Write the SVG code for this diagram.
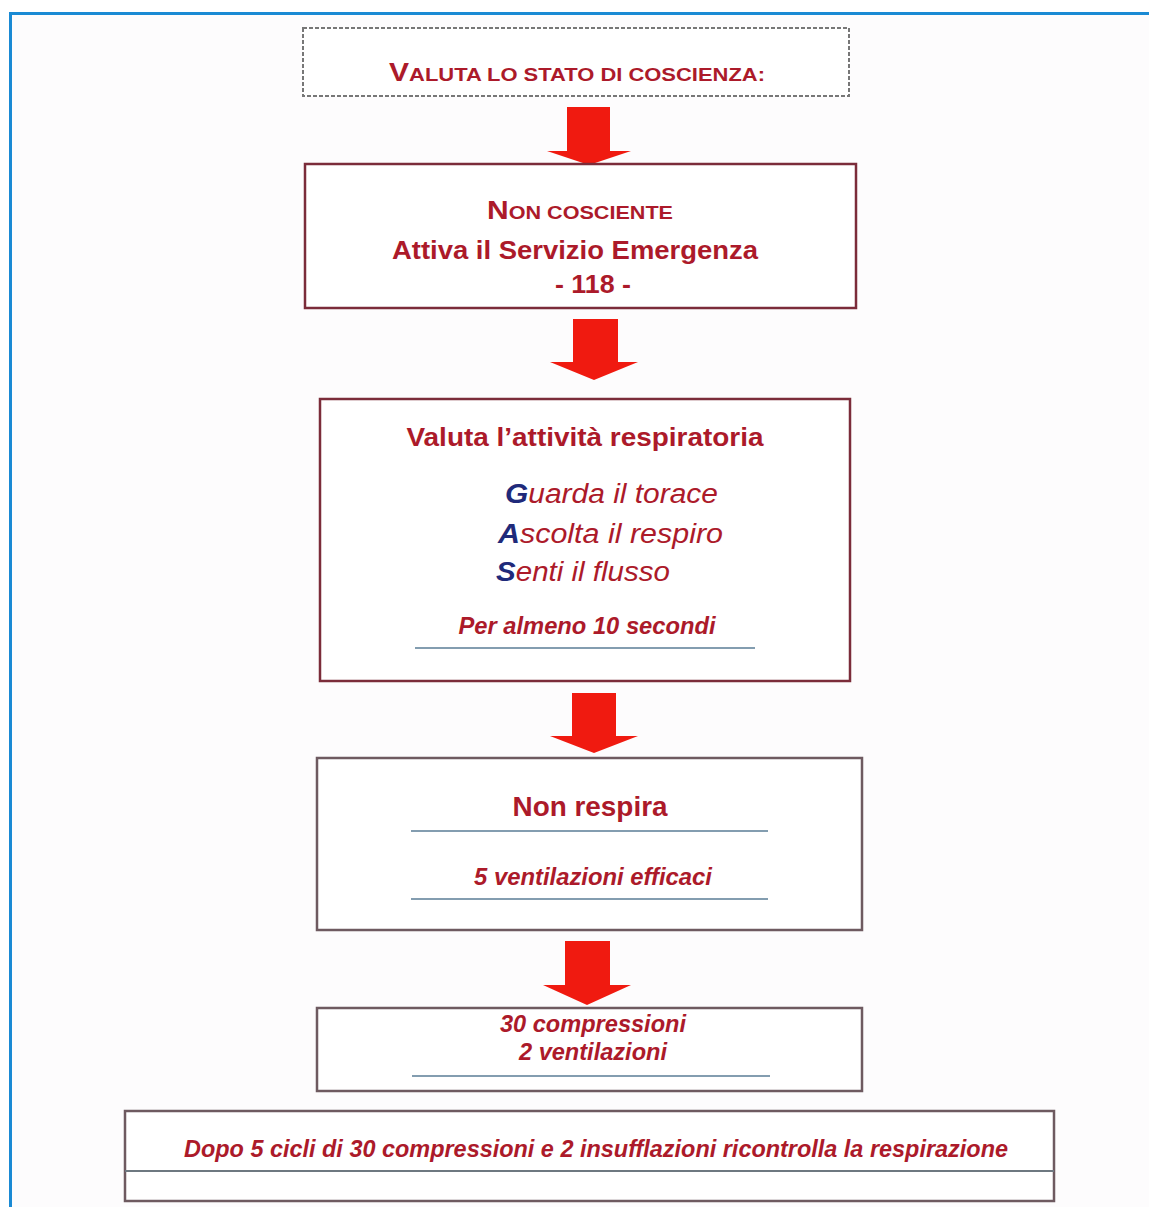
<svg xmlns="http://www.w3.org/2000/svg" width="1149" height="1207" viewBox="0 0 1149 1207">
<style>
.box{fill:#fff;stroke:#7b2c3a;stroke-width:2.5}
.gbox{fill:#fff;stroke:#6e5a60;stroke-width:2.5}
.dash{fill:#fff;stroke:#777;stroke-width:2;stroke-dasharray:4 2}
.t{font-family:"Liberation Sans",Arial,sans-serif;font-weight:bold;fill:#ac1a2a}
.i{font-style:italic}
.n{font-weight:normal}
.b{fill:#1f2a7a;font-weight:bold}
.sep{stroke:#5a7d96;stroke-width:1.5}
.arrow{fill:#f01a10}
</style>
<rect x="0" y="0" width="1149" height="1207" fill="#fff"/>
<rect x="10.5" y="13.5" width="1150" height="1210" fill="#fdfcfd" stroke="#1a8ad4" stroke-width="3"/>

<g id="connectors">
<polygon class="arrow" points="567,107 610,107 610,151 631,151 589,165 547,151 567,151"/>
<polygon class="arrow" points="573,319 618,319 618,362 638,362 594,380 550,362 573,362"/>
<polygon class="arrow" points="572,693 616,693 616,736 638,736 594,753 550,736 572,736"/>
<polygon class="arrow" points="565,941 610,941 610,985 631,985 587,1005 543,985 565,985"/>
</g>

<g id="n1">
<rect class="dash" x="303" y="28" width="546" height="68"/>
<text class="t" x="577" y="81" text-anchor="middle" font-size="19" textLength="376" lengthAdjust="spacingAndGlyphs"><tspan font-size="26">V</tspan>ALUTA LO STATO DI COSCIENZA:</text>
</g>

<g id="n2">
<rect class="box" x="305" y="164" width="551" height="144"/>
<text class="t" x="580" y="219" text-anchor="middle" font-size="18" textLength="186" lengthAdjust="spacingAndGlyphs"><tspan font-size="25">N</tspan>ON COSCIENTE</text>
<text class="t" x="575" y="259" text-anchor="middle" font-size="26" textLength="366" lengthAdjust="spacingAndGlyphs">Attiva il Servizio Emergenza</text>
<text class="t" x="593" y="293" text-anchor="middle" font-size="26" textLength="76" lengthAdjust="spacingAndGlyphs">- 118 -</text>
</g>

<g id="n3">
<rect class="box" x="320" y="399" width="530" height="282"/>
<text class="t" x="585" y="446" text-anchor="middle" font-size="26" textLength="357" lengthAdjust="spacingAndGlyphs">Valuta l’attività respiratoria</text>
<text class="t n i" x="505" y="503" font-size="27" textLength="213" lengthAdjust="spacingAndGlyphs"><tspan class="b">G</tspan>uarda il torace</text>
<text class="t n i" x="498" y="543" font-size="27" textLength="225" lengthAdjust="spacingAndGlyphs"><tspan class="b">A</tspan>scolta il respiro</text>
<text class="t n i" x="496" y="581" font-size="27" textLength="174" lengthAdjust="spacingAndGlyphs"><tspan class="b">S</tspan>enti il flusso</text>
<text class="t i" x="587" y="634" text-anchor="middle" font-size="23" textLength="257" lengthAdjust="spacingAndGlyphs">Per almeno 10 secondi</text>
<line class="sep" x1="415" y1="648" x2="755" y2="648"/>
</g>

<g id="n4">
<rect class="gbox" x="317" y="758" width="545" height="172"/>
<text class="t" x="590" y="816" text-anchor="middle" font-size="28" textLength="155" lengthAdjust="spacingAndGlyphs">Non respira</text>
<line class="sep" x1="411" y1="831" x2="768" y2="831"/>
<text class="t i" x="593" y="885" text-anchor="middle" font-size="23" textLength="238" lengthAdjust="spacingAndGlyphs">5 ventilazioni efficaci</text>
<line class="sep" x1="411" y1="899" x2="768" y2="899"/>
</g>

<g id="n5">
<rect class="gbox" x="317" y="1008" width="545" height="83"/>
<text class="t i" x="593" y="1032" text-anchor="middle" font-size="23" textLength="186" lengthAdjust="spacingAndGlyphs">30 compressioni</text>
<text class="t i" x="593" y="1060" text-anchor="middle" font-size="23" textLength="148" lengthAdjust="spacingAndGlyphs">2 ventilazioni</text>
<line class="sep" x1="412" y1="1076" x2="770" y2="1076" stroke="#8fb8d0"/>
</g>

<g id="n6">
<rect class="gbox" x="125" y="1111" width="929" height="90"/>
<text class="t i" x="596" y="1157" text-anchor="middle" font-size="23" textLength="824" lengthAdjust="spacingAndGlyphs">Dopo 5 cicli di 30 compressioni e 2 insufflazioni ricontrolla la respirazione</text>
<line x1="125" y1="1171" x2="1054" y2="1171" stroke="#6e7880" stroke-width="2"/>
</g>
</svg>
